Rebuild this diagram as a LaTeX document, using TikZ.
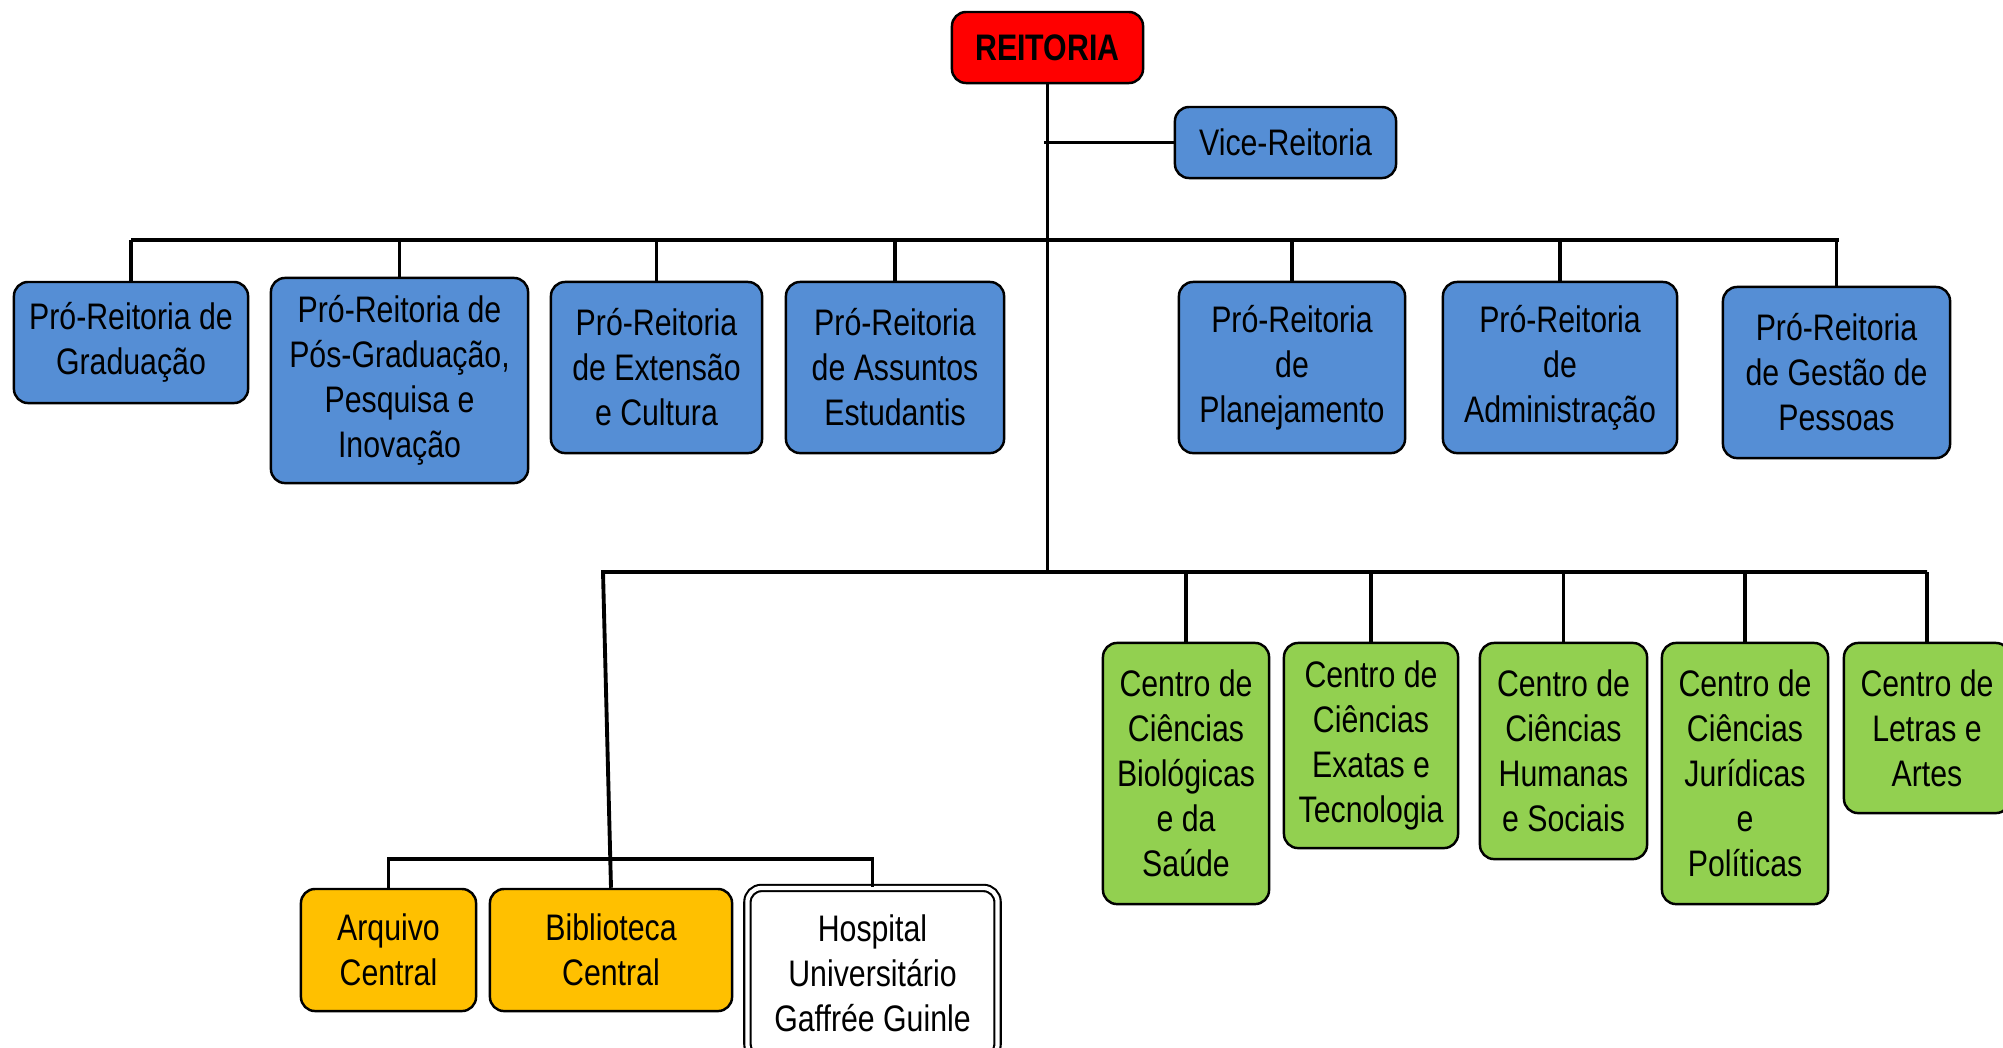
\documentclass[tikz,border=0pt]{standalone}
\usepackage{fontspec}
\setmainfont{Liberation Sans}[FakeStretch=0.82]
\definecolor{problue}{RGB}{85,142,213}
\definecolor{centrogreen}{RGB}{146,208,80}
\definecolor{orgaoyellow}{RGB}{255,192,0}

\begin{document}
\begin{tikzpicture}[x = 0.01cm, y = -0.01cm, line width = 1.1pt,
    every node/.style = {shape = rectangle, draw, rounded corners = 4pt, line width = 0.7pt,
        align = center, inner sep = 1pt, font = \fontsize{10.5}{12.8}\selectfont},
    reitor/.style = {fill = red, font = \fontsize{10.5}{12.8}\selectfont\bfseries},
    pro/.style = {fill = problue},
    centro/.style = {fill = centrogreen},
    orgao/.style = {fill = orgaoyellow},
    hosp/.style = {fill = white, double, double distance = 1.2pt, line width = 0.6pt}]
    \clip (0,0) rectangle (2003,1047);

    \node[reitor, minimum width = 1.91cm, minimum height = 0.71cm] (reit) at (1047.5,47.5) {REITORIA};
    \node[pro, minimum width = 2.21cm, minimum height = 0.71cm] (vice) at (1285.5,142.5) {Vice-Reitoria};

    \node[pro, minimum width = 2.34cm, minimum height = 1.21cm] (grad) at (131,342.5) {Pró-Reitoria de\\Graduação};
    \node[pro, minimum width = 2.57cm, minimum height = 2.05cm] (posg) at (399.5,380.5) {Pró-Reitoria de\\Pós-Graduação,\\Pesquisa e\\Inovação};
    \node[pro, minimum width = 2.11cm, minimum height = 1.71cm] (ext) at (656.5,367.5) {Pró-Reitoria\\de Extensão\\e Cultura};
    \node[pro, minimum width = 2.18cm, minimum height = 1.71cm] (ass) at (895,367.5) {Pró-Reitoria\\de Assuntos\\Estudantis};
    \node[pro, minimum width = 2.26cm, minimum height = 1.71cm] (plan) at (1292,367.5) {Pró-Reitoria\\de\\Planejamento};
    \node[pro, minimum width = 2.34cm, minimum height = 1.71cm] (adm) at (1560,367.5) {Pró-Reitoria\\de\\Administração};
    \node[pro, minimum width = 2.27cm, minimum height = 1.71cm] (gest) at (1836.5,372.5) {Pró-Reitoria\\de Gestão de\\Pessoas};

    \node[centro, minimum width = 1.66cm, minimum height = 2.61cm] (ccbs) at (1186,773.5) {Centro de\\Ciências\\Biológicas\\e da\\Saúde};
    \node[centro, minimum width = 1.74cm, minimum height = 2.05cm] (ccet) at (1371,745.5) {Centro de\\Ciências\\Exatas e\\Tecnologia};
    \node[centro, minimum width = 1.67cm, minimum height = 2.16cm] (cchs) at (1563.5,751) {Centro de\\Ciências\\Humanas\\e Sociais};
    \node[centro, minimum width = 1.66cm, minimum height = 2.61cm] (ccjp) at (1745,773.5) {Centro de\\Ciências\\Jurídicas\\e\\Políticas};
    \node[centro, minimum width = 1.66cm, minimum height = 1.70cm] (cla) at (1927,728) {Centro de\\Letras e\\Artes};

    \node[orgao, minimum width = 1.75cm, minimum height = 1.22cm] (arq) at (388.5,950) {Arquivo\\Central};
    \node[orgao, minimum width = 2.42cm, minimum height = 1.22cm] (bib) at (611,950) {Biblioteca\\Central};
    \node[hosp, minimum width = 2.50cm, minimum height = 1.70cm] (hosp) at (872.5,973) {Hospital\\Universitário\\Gaffrée Guinle};

    \coordinate (bus1) at (0,240);
    \coordinate (bus2) at (0,572);
    \coordinate (bus3) at (0,859);
    \coordinate (arm) at (603,572);

    \draw (reit.south) -- (reit.south |- bus2);
    \draw (vice.west) -- ([xshift = -0.04cm] reit.south |- vice.west);
    \draw (grad.north |- bus1) -- ([xshift = 0.025cm] gest.north |- bus1);
    \foreach \n in {grad, posg, ext, ass, plan, adm, gest}
        \draw (\n.north) -- (\n.north |- bus1);
    \draw (cla.north |- bus2) -- (arm) -- (bib.north);
    \foreach \n in {ccbs, ccet, cchs, ccjp, cla}
        \draw (\n.north) -- (\n.north |- bus2);
    \draw (arq.north) -- (arq.north |- bus3) -- (hosp.north |- bus3) -- (hosp.north);
\end{tikzpicture}
\end{document}
